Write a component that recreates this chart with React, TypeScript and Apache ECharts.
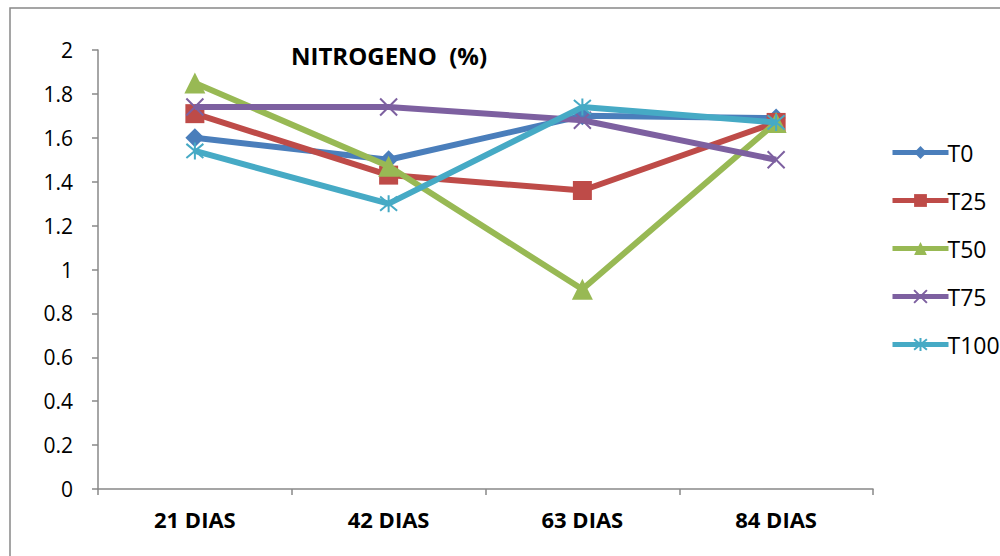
import React, { useEffect, useRef } from "react";
import * as echarts from "echarts";

const categories = ["21 DIAS", "42 DIAS", "63 DIAS", "84 DIAS"];
const seriesNames = ["T0", "T25", "T50", "T75", "T100"];
const t0 = [1.6, 1.5, 1.7, 1.69];
const t25 = [1.71, 1.43, 1.36, 1.67];
const t50 = [1.85, 1.47, 0.91, 1.67];
const t75 = [1.74, 1.74, 1.68, 1.5];
const t100 = [1.54, 1.3, 1.74, 1.67];
const colors = ["#4a7ebb", "#be4b48", "#98b954", "#7d60a0", "#46aac5"];
const titleText = "NITROGENO  (%)";

const xSym = "path://M0,0L10,10M10,0L0,10";
const starSym = "path://M0,0L10,10M10,0L0,10M5,-1L5,11";

export default function App() {
  const ref = useRef<HTMLDivElement>(null);
  useEffect(() => {
    if (!ref.current) return;
    const chart = echarts.init(ref.current, undefined, { renderer: "svg" });
    const data = [t0, t25, t50, t75, t100];
    const symbols = ["diamond", "rect", "triangle", xSym, starSym];
    const sizes = [19, 19, 21, 17, 17];
    const font = "'Open Sans', Lato, sans-serif";
    chart.setOption({
      animation: false,
      color: colors,
      textStyle: { fontFamily: font },
      title: {
        text: titleText,
        left: 286,
        top: 38,
        textStyle: { fontSize: 24, fontWeight: "bold", color: "#000", fontFamily: font },
      },
      graphic: [
        {
          type: "rect",
          shape: { x: 10, y: 8, width: 1100, height: 700 },
          style: { fill: "none", stroke: "#888", lineWidth: 1.5 },
          silent: true,
        },
      ],
      legend: {
        orient: "vertical",
        left: 885,
        top: 136,
        itemWidth: 56,
        itemHeight: 16,
        itemGap: 25,
        data: seriesNames,
        lineStyle: { width: 5 },
        textStyle: { fontSize: 23, color: "#000", fontFamily: font, padding: [0, 0, 0, -6] },
      },
      grid: { left: 98, right: 127, top: 50, bottom: 67 },
      xAxis: {
        type: "category",
        data: categories,
        boundaryGap: true,
        axisLine: { lineStyle: { color: "#888", width: 1.5 } },
        axisTick: { show: true, length: 6, lineStyle: { color: "#888", width: 1.5 } },
        axisLabel: { fontSize: 22, fontWeight: "bold", color: "#000", margin: 19, fontFamily: font },
      },
      yAxis: {
        type: "value",
        min: 0,
        max: 2,
        interval: 0.2,
        splitLine: { show: false },
        axisLine: { show: true, lineStyle: { color: "#888", width: 1.5 } },
        axisTick: { show: true, length: 6, lineStyle: { color: "#888", width: 1.5 } },
        axisLabel: {
          fontSize: 21,
          color: "#000",
          margin: 25,
          fontFamily: font,
          formatter: (v: number) => String(Math.round(v * 10) / 10),
        },
      },
      series: seriesNames.map((name, i) => ({
        name,
        type: "line",
        data: data[i],
        symbol: symbols[i],
        symbolSize: sizes[i],
        showAllSymbol: true,
        lineStyle: { width: 6, color: colors[i] },
        itemStyle:
          i >= 3
            ? { color: colors[i], borderColor: colors[i], borderWidth: 2 }
            : { color: colors[i], borderWidth: 0 },
        z: 2 + i,
      })),
    });
    return () => chart.dispose();
  }, []);
  return (
    <div
      ref={ref}
      style={{ position: "fixed", left: 0, top: 0, width: 1000, height: 556, background: "#fff" }}
    />
  );
}
